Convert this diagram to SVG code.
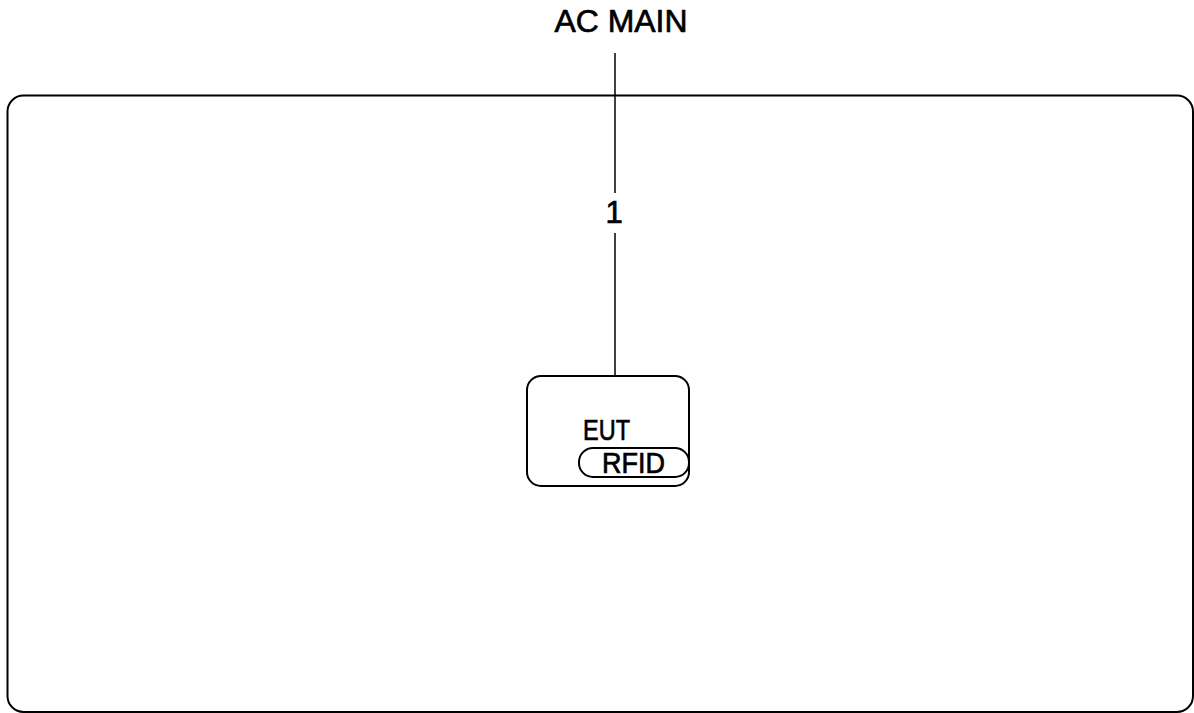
<svg xmlns="http://www.w3.org/2000/svg" width="1194" height="713" viewBox="0 0 1194 713">
<style>
.ln{fill:none;stroke:#000;stroke-width:1.5}
.bx{fill:none;stroke:#000;stroke-width:2}
.t{font-family:"Liberation Sans",Arial,sans-serif;fill:#000;stroke:#000;stroke-width:0.7}
</style>
<rect width="1194" height="713" fill="#fff"/>
<g id="room"><rect class="bx" x="7.5" y="95.5" width="1185.5" height="616.5" rx="16" ry="16"/></g>
<g id="connectors">
<line class="ln" x1="615" y1="53" x2="615" y2="193"/>
<line class="ln" x1="615" y1="233" x2="615" y2="376"/>
<text class="t" x="614" y="223" font-size="31" text-anchor="middle">1</text>
</g>
<g id="acmain"><text class="t" x="621" y="32" font-size="32" text-anchor="middle" textLength="133" lengthAdjust="spacingAndGlyphs">AC MAIN</text></g>
<g id="eut">
<rect class="bx" x="527" y="376" width="162" height="110" rx="14" ry="14"/>
<text class="t" x="583" y="440" font-size="30" textLength="47" lengthAdjust="spacingAndGlyphs">EUT</text>
</g>
<g id="rfid">
<rect class="bx" x="579" y="448" width="110" height="29" rx="14" ry="14" fill="#fff"/>
<text class="t" x="602" y="473" font-size="29" textLength="63" lengthAdjust="spacingAndGlyphs">RFID</text>
</g>
</svg>
